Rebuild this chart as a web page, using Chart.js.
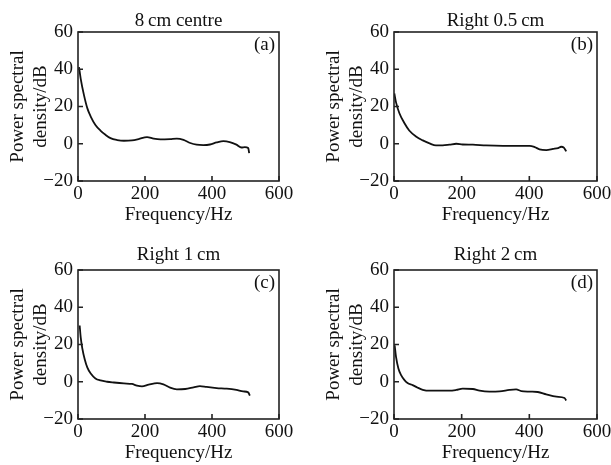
<!DOCTYPE html>
<html>
<head>
<meta charset="utf-8">
<script src="https://cdn.jsdelivr.net/npm/chart.js@4.4.1/dist/chart.umd.min.js"></script>
<style>
  body { margin: 0; background: #fff; }
  #wrap { position: relative; width: 611px; height: 465px; overflow: hidden; background: #fff; }
  #wrap canvas { position: absolute; }
</style>
</head>
<body>
<div id="wrap">
  <canvas id="chartA" width="305" height="232" style="left:0;top:0"></canvas>
  <canvas id="chartB" width="295" height="232" style="left:316px;top:0"></canvas>
  <canvas id="chartC" width="305" height="232" style="left:0;top:238px"></canvas>
  <canvas id="chartD" width="295" height="232" style="left:316px;top:238px"></canvas>
</div>
<script>
// values (frequency in Hz, PSD in dB)
const freqA = [3, 8, 18, 28, 38, 52, 67, 82, 97, 117, 137, 161, 181, 206, 226, 246, 275, 295, 315, 335, 354, 374, 394, 414, 434, 453, 473, 488, 498, 508, 511];
const psdA = [41.2, 35, 26, 19, 14.6, 10.1, 7.1, 4.8, 3.0, 2.0, 1.6, 1.8, 2.5, 3.6, 2.7, 2.3, 2.5, 2.8, 2.1, 0.4, -0.5, -0.7, -0.4, 0.7, 1.4, 0.9, -0.5, -2.0, -1.8, -2.3, -5.0];

const freqB = [1, 6, 16, 31, 45, 65, 85, 105, 124, 144, 164, 184, 203, 233, 272, 322, 371, 401, 416, 430, 450, 470, 485, 494, 502, 509];
const psdB = [27, 22.2, 16.4, 11.0, 7.1, 3.9, 1.8, 0.2, -0.9, -0.9, -0.5, 0, -0.4, -0.5, -0.9, -1.1, -1.1, -1.1, -1.8, -3.0, -3.4, -2.8, -2.3, -1.6, -2.1, -4.1];

const freqC = [5, 8, 13, 20, 28, 38, 52, 67, 87, 107, 137, 161, 176, 191, 211, 236, 255, 275, 295, 320, 345, 364, 384, 414, 444, 473, 493, 508, 513];
const psdC = [30.2, 24, 17.8, 12.1, 7.6, 4.4, 1.8, 0.7, 0, -0.4, -0.9, -1.2, -2.1, -2.5, -1.6, -0.7, -1.4, -3.2, -4.1, -3.9, -3.0, -2.3, -2.8, -3.4, -3.7, -4.4, -5.2, -5.7, -7.5];

const freqD = [2, 6, 13, 21, 31, 40, 55, 70, 85, 105, 134, 164, 184, 203, 233, 253, 282, 312, 341, 361, 376, 401, 425, 450, 480, 504, 509];
const psdD = [19.6, 13.3, 7.1, 3.6, 0.9, -0.7, -1.8, -3.2, -4.3, -4.8, -4.8, -4.8, -4.4, -3.7, -3.9, -4.8, -5.3, -5.2, -4.4, -4.1, -5.0, -5.3, -5.5, -6.8, -8.0, -8.7, -10.1];

const titles = ['8\u2009cm centre', 'Right 0.5\u2009cm', 'Right 1\u2009cm', 'Right 2\u2009cm'];
const panelLabels = ['(a)', '(b)', '(c)', '(d)'];
const xTicks = [0, 200, 400, 600];
const yTicks = [-20, 0, 20, 40, 60];

const serif = '"Liberation Serif", "Times New Roman", serif';
Chart.defaults.font.family = serif;
Chart.defaults.font.size = 19;
Chart.defaults.color = '#111';

// box, inward ticks, panel title and the (a)/(b)... label
const framePlugin = {
  id: 'frame',
  afterDraw(chart, args, opts) {
    const { ctx, chartArea: a } = chart;
    const x = chart.scales.x;
    const y = chart.scales.y;
    ctx.save();
    ctx.strokeStyle = '#222';
    ctx.lineWidth = 1.6;
    ctx.strokeRect(a.left, a.top, a.right - a.left, a.bottom - a.top);
    ctx.beginPath();
    xTicks.forEach(v => {
      const px = x.getPixelForValue(v);
      ctx.moveTo(px, a.bottom);
      ctx.lineTo(px, a.bottom - 5);
    });
    yTicks.forEach(v => {
      const py = y.getPixelForValue(v);
      ctx.moveTo(a.left, py);
      ctx.lineTo(a.left + 5, py);
    });
    ctx.stroke();
    ctx.fillStyle = '#111';
    ctx.font = '19px ' + serif;
    ctx.textBaseline = 'middle';
    ctx.textAlign = 'right';
    ctx.fillText(opts.label, a.right - 4, a.top + 13);
    ctx.textAlign = 'center';
    ctx.fillText(opts.title, (a.left + a.right) / 2, opts.titleY);
    ctx.restore();
  }
};

function makePanel(id, freq, psd, idx, padRight, titleY) {
  const points = freq.map((f, i) => ({ x: f, y: psd[i] }));
  return new Chart(document.getElementById(id), {
    type: 'line',
    data: {
      datasets: [{
        data: points,
        borderColor: '#111',
        borderWidth: 1.8,
        pointRadius: 0,
        cubicInterpolationMode: 'monotone',
        fill: false
      }]
    },
    options: {
      responsive: false,
      animation: false,
      events: [],
      layout: { padding: { left: 0, right: padRight, top: 32, bottom: 0 } },
      plugins: {
        legend: { display: false },
        tooltip: { enabled: false },
        title: { display: false },
        frame: { label: panelLabels[idx], title: titles[idx], titleY: titleY }
      },
      scales: {
        x: {
          type: 'linear',
          min: 0,
          max: 600,
          grid: { display: false, drawTicks: false },
          border: { display: false },
          ticks: { stepSize: 200, padding: 2, maxRotation: 0 },
          title: {
            display: true,
            text: 'Frequency/Hz',
            font: { size: 19, lineHeight: 1.2 },
            padding: { top: 0, bottom: 6 }
          },
          afterFit: s => {
            s.height = 51;
            s.paddingLeft = 0;
            s.paddingRight = 0;
          }
        },
        y: {
          min: -20,
          max: 60,
          grid: { display: false, drawTicks: false },
          border: { display: false },
          ticks: {
            stepSize: 20,
            padding: 5,
            callback: v => String(v).replace('-', '\u2212')
          },
          title: {
            display: true,
            text: ['Power spectral', 'density/dB'],
            font: { size: 19, lineHeight: 1.2 },
            padding: { top: 6.5, bottom: 0 }
          },
          afterFit: s => {
            s.width = 78;
            s.paddingTop = 0;
            s.paddingBottom = 0;
          }
        }
      }
    },
    plugins: [framePlugin]
  });
}

makePanel('chartA', freqA, psdA, 0, 26, 21);
makePanel('chartB', freqB, psdB, 1, 14, 21);
makePanel('chartC', freqC, psdC, 2, 26, 17);
makePanel('chartD', freqD, psdD, 3, 14, 17);
</script>
</body>
</html>
